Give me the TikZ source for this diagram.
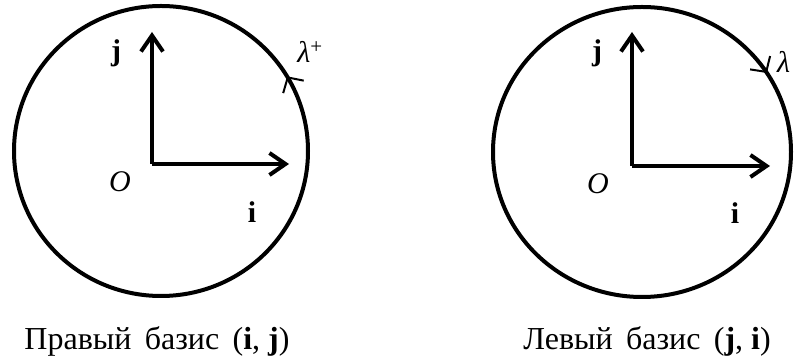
\documentclass[tikz,border=0pt]{standalone}
\usepackage{fontspec}
\setmainfont{Liberation Serif}
\usetikzlibrary{arrows.meta}
\begin{document}
\begin{tikzpicture}[x=1pt,y=1pt,
  bound/.style={line width=4pt},
  axis/.style={line width=4pt,-{Straight Barb[length=16pt,width=22pt,line width=4pt]}},
  orient/.style={line width=2pt,-{Straight Barb[length=11pt,width=24pt,line width=2pt]}},
  lbl/.style={font=\fontsize{30}{33}\selectfont,inner sep=0pt},
  captxt/.style={font=\fontsize{32}{36}\selectfont,inner sep=0pt}]
\useasboundingbox (0,0) rectangle (796,358);
% left
\coordinate (C1) at (161,207);
\coordinate (O1) at (152,194);
\coordinate (J1) at (152,326);
\coordinate (I1) at (289,194);
\draw[bound] (C1) ellipse [x radius=147, y radius=145];
\draw[axis] (O1) -- (J1);
\draw[axis] (O1) -- (I1);
\draw[orient] ([shift={(C1)}]22:147 and 145) arc[start angle=22,end angle=31,x radius=147,y radius=145];
\node[lbl] (j1) at (116,305) {\textbf{j}};
\node[lbl] (o1) at (120,176) {\textit{O}};
\node[lbl] (i1) at (252,146) {\textbf{i}};
\node[lbl] (l1) at (310,306) {\textit{λ}\textsuperscript{+}};
\node[captxt] (c1) at (157,17) {Правый\, базис\, (\textbf{i}, \textbf{j})};
% right
\coordinate (C2) at (642,206);
\coordinate (O2) at (632,192);
\coordinate (J2) at (632,326);
\coordinate (I2) at (770,192);
\draw[bound] (C2) ellipse [x radius=149, y radius=145];
\draw[axis] (O2) -- (J2);
\draw[axis] (O2) -- (I2);
\draw[orient] ([shift={(C2)}]42:149 and 145) arc[start angle=42,end angle=33,x radius=149,y radius=145];
\node[lbl] (j2) at (597,305) {\textbf{j}};
\node[lbl] (o2) at (598,174) {\textit{O}};
\node[lbl] (i2) at (735,145) {\textbf{i}};
\node[lbl,anchor=west] (l2) at (777,296) {\textit{λ}};
\node[captxt] (c2) at (647,17) {Левый\, базис\, (\textbf{j}, \textbf{i})};
\end{tikzpicture}
\end{document}
